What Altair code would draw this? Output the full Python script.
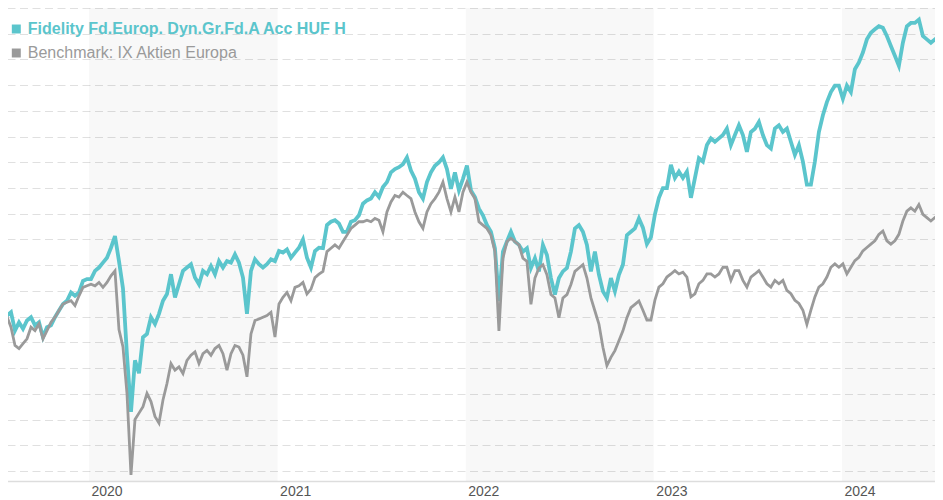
import altair as alt
import pandas as pd

FUND = "Fidelity Fd.Europ. Dyn.Gr.Fd.A Acc HUF H"
BENCH = "Benchmark: IX Aktien Europa"
TEAL = "#5bc5cc"
GRAY = "#9a9a9a"

# roughly weekly observations, 2019-07-26 .. 2024-07-07 (performance in %, arbitrary base)
start_date = "2019-07-26"
end_date = "2024-07-07"

fund_values = [
    0.4, 1.7, -5.4, -2.2, -4.7, -1.5, -0.2, -3.4, -2.2, -7.9, -4.1, -3.4, -0.2, 2.4, 4.9, 6.2, 9.4, 8.1, 9.4, 13.9, 14.6,
    14.6, 17.8, 19.1, 21.0, 22.9, 26.8, 31.3, 21.6, 11.0, -15.0, -37.0, -17.0, -22.0, -8.0, -6.7, -0.2, -2.8, 1.1, 6.2, 8.8,
    16.5, 7.5, 12.6, 17.8, 19.1, 20.4, 15.2, 12.6, 17.8, 16.5, 19.7, 16.5, 21.6, 19.1, 21.6, 21.0, 24.2, 21.0, 15.2, 1.1,
    17.8, 22.3, 20.4, 19.1, 20.4, 22.3, 21.6, 25.5, 24.9, 26.1, 22.9, 24.9, 26.8, 30.0, 22.9, 19.1, 25.5, 26.8,
    26.6, 35.6, 36.9, 37.5, 36.2, 33.0, 33.0, 36.9, 37.5, 39.4, 43.9, 45.2, 45.9, 48.4, 46.5, 50.4, 52.3, 56.1, 57.4, 58.1,
    59.3, 61.9, 56.8, 53.6, 48.4, 45.9, 52.3, 56.1, 58.7, 60.0, 61.9, 57.4, 49.7, 56.1, 49.1, 53.6, 58.7, 49.1, 46.5, 42.0,
    39.4, 35.6, 33.0, 26.6, 6.1, 25.3, 29.2, 33.0, 29.2, 27.9, 25.3, 26.6, 18.9, 22.7, 17.6, 27.9, 24.0, 15.0, 8.6, 15.0,
    17.6, 18.9, 25.3, 34.3, 35.6, 33.0, 27.9, 17.6, 25.3, 16.3, 9.9, 7.3, 15.0, 9.9, 16.3, 20.2, 31.7, 33.0, 34.3, 38.2,
    34.6, 28.2, 30.8, 39.8, 46.2, 50.0, 50.0, 59.0, 53.9, 56.4, 53.9, 56.4, 46.2, 53.9, 61.6, 60.3, 66.7, 69.3, 68.0, 69.3,
    70.6, 73.1, 66.7, 70.6, 74.4, 70.6, 64.1, 71.8, 73.1, 75.7, 70.6, 66.7, 65.4, 73.1, 74.4, 71.8, 73.1, 68.0, 62.9, 66.7,
    60.3, 51.3, 51.3, 60.3, 71.8, 78.3, 83.4, 87.3, 89.8, 89.8, 84.7, 89.8, 87.3, 96.2, 98.8, 102.7, 107.8, 110.4, 111.7, 112.9,
    112.3, 109.1, 105.2, 101.4, 97.5, 106.5, 112.9, 114.2, 114.2, 115.5, 109.1, 107.8, 106.5, 107.8, 106.5,
]

bench_values = [
    0.0, -4.1, -11.2, -12.4, -10.5, -8.6, -4.1, -5.4, -2.8, -8.6, -5.4, -2.2, -0.2, 2.4, 4.9, 5.6, 6.2, 4.3, 8.1, 11.4, 12.0,
    12.6, 12.0, 13.3, 11.4, 13.3, 15.9, 17.8, -5.0, -11.8, -29.8, -61.5, -40.0, -37.5, -35.0, -29.8, -33.0, -38.8, -41.4, -32.4, -26.0,
    -18.2, -20.8, -19.5, -22.1, -17.0, -15.0, -13.7, -18.2, -14.4, -13.1, -15.0, -12.4, -11.2, -14.4, -20.8, -14.4, -11.2, -11.8, -15.0, -23.4,
    -6.7, -1.5, -0.9, -0.2, 0.4, 1.7, -7.9, 4.9, 7.5, 9.4, 6.2, 11.4, 12.0, 13.3, 8.8, 10.7, 15.2, 16.5,
    17.6, 25.3, 26.6, 27.9, 26.6, 29.2, 31.7, 34.3, 35.6, 36.9, 36.9, 37.5, 36.9, 38.2, 37.5, 33.0, 40.7, 44.6, 47.1, 46.5,
    48.4, 47.1, 45.9, 40.7, 36.9, 34.3, 40.7, 43.9, 45.9, 48.4, 52.3, 45.9, 40.7, 46.5, 40.7, 48.4, 52.3, 48.4, 45.9, 36.9,
    35.6, 34.3, 31.7, 25.3, -5.5, 22.7, 29.2, 30.5, 29.2, 27.9, 22.7, 21.5, 4.8, 15.0, 18.9, 20.2, 16.3, 8.6, 7.3, -0.4,
    7.3, 8.6, 12.5, 17.6, 18.9, 20.2, 15.0, 7.3, 2.2, -2.9, -11.9, -19.0, -15.8, -13.2, -9.4, -5.5, -0.4, 3.5, 4.8, 6.1,
    2.5, -1.3, -1.3, 6.4, 11.5, 12.8, 15.4, 16.6, 17.9, 16.6, 17.3, 15.4, 7.7, 8.9, 12.8, 14.1, 16.6, 16.6, 15.4, 16.6,
    19.2, 19.2, 14.1, 17.9, 17.9, 14.1, 11.5, 15.4, 16.6, 17.9, 15.4, 12.8, 11.5, 14.1, 12.8, 14.1, 10.2, 8.9, 6.4, 5.1,
    2.5, -3.0, 2.5, 7.7, 11.5, 12.8, 15.4, 19.2, 20.5, 19.2, 20.5, 16.6, 19.2, 21.8, 23.1, 25.6, 26.9, 28.2, 29.5, 32.0,
    33.3, 29.5, 28.2, 29.5, 32.0, 37.2, 41.0, 42.3, 41.0, 43.6, 39.8, 38.5, 37.2, 38.5, 39.8,
]

years = [2020, 2021, 2022, 2023, 2024]
band_starts = ["2020-01-01", "2022-01-01", "2024-01-01"]
band_ends = ["2021-01-01", "2023-01-01", "2025-01-01"]
grid_values = list(range(-60, 121, 10))

df = pd.concat([
    pd.DataFrame({"date": pd.date_range(start_date, end_date, periods=len(fund_values)),
                  "value": fund_values, "series": FUND}),
    pd.DataFrame({"date": pd.date_range(start_date, end_date, periods=len(bench_values)),
                  "value": bench_values, "series": BENCH}),
])
bands = pd.DataFrame({"start": pd.to_datetime(band_starts), "end": pd.to_datetime(band_ends)})

x_scale = alt.Scale(domain=[alt.DateTime(year=2019, month=7, date=26),
                            alt.DateTime(year=2024, month=7, date=15)])
x_axis = alt.Axis(values=[alt.DateTime(year=y, month=1, date=1) for y in years], format="%Y",
                  labelAlign="left", labelOffset=2, ticks=False, grid=False, domain=True,
                  domainColor="#dddddd", domainWidth=1.5, labelColor="#555555",
                  labelFont="Liberation Sans", labelFontSize=14, labelPadding=3,
                  labelFlush=False, labelOverlap=False, title=None)
y_scale = alt.Scale(domain=[-63.89, 120], nice=False, zero=False)
y_axis = alt.Axis(values=grid_values, labels=False, ticks=False, domain=False, grid=True,
                  gridDash=[8, 4.5], gridColor="#e0e0e0", gridWidth=1, title=None)

legend = alt.Legend(
    orient="none", legendX=1.3, legendY=13, title=None, padding=0,
    symbolType="square", symbolSize=20, symbolStrokeWidth=4.5, symbolOpacity=1,
    labelFont="Liberation Sans", labelFontSize=16, labelOffset=3.5, rowPadding=0, labelLimit=0,
    labelColor=alt.ExprRef(expr=f"datum.value == '{BENCH}' ? '{GRAY}' : '{TEAL}'"),
    labelFontWeight=alt.ExprRef(expr=f"datum.value == '{BENCH}' ? 'normal' : 'bold'"),
)
color = alt.Color("series:N", scale=alt.Scale(domain=[FUND, BENCH], range=[TEAL, GRAY]), legend=legend)

band_layer = alt.Chart(bands).mark_rect(color="#000000", opacity=0.028, clip=True).encode(
    x=alt.X("start:T", scale=x_scale, axis=x_axis), x2="end:T")

base = alt.Chart(df)
fund_line = base.transform_filter(alt.datum.series == FUND).mark_line(strokeWidth=3.8).encode(
    x=alt.X("date:T", scale=x_scale, axis=x_axis),
    y=alt.Y("value:Q", scale=y_scale, axis=y_axis),
    color=color)
bench_line = base.transform_filter(alt.datum.series == BENCH).mark_line(strokeWidth=2.8).encode(
    x=alt.X("date:T", scale=x_scale, axis=x_axis),
    y=alt.Y("value:Q", scale=y_scale, axis=y_axis),
    color=color)

# page is 943 px wide: the svg is kept to 927 px so the page never overflows sideways
chart = alt.layer(band_layer, fund_line, bench_line).properties(
    width=936, height=473,
    autosize=alt.AutoSizeParams(type="none"),
    padding={"left": -1, "top": 0, "right": -8, "bottom": 19},
).configure_view(strokeWidth=0)

chart.save("out.html", embed_options={"renderer": "svg", "actions": False})
